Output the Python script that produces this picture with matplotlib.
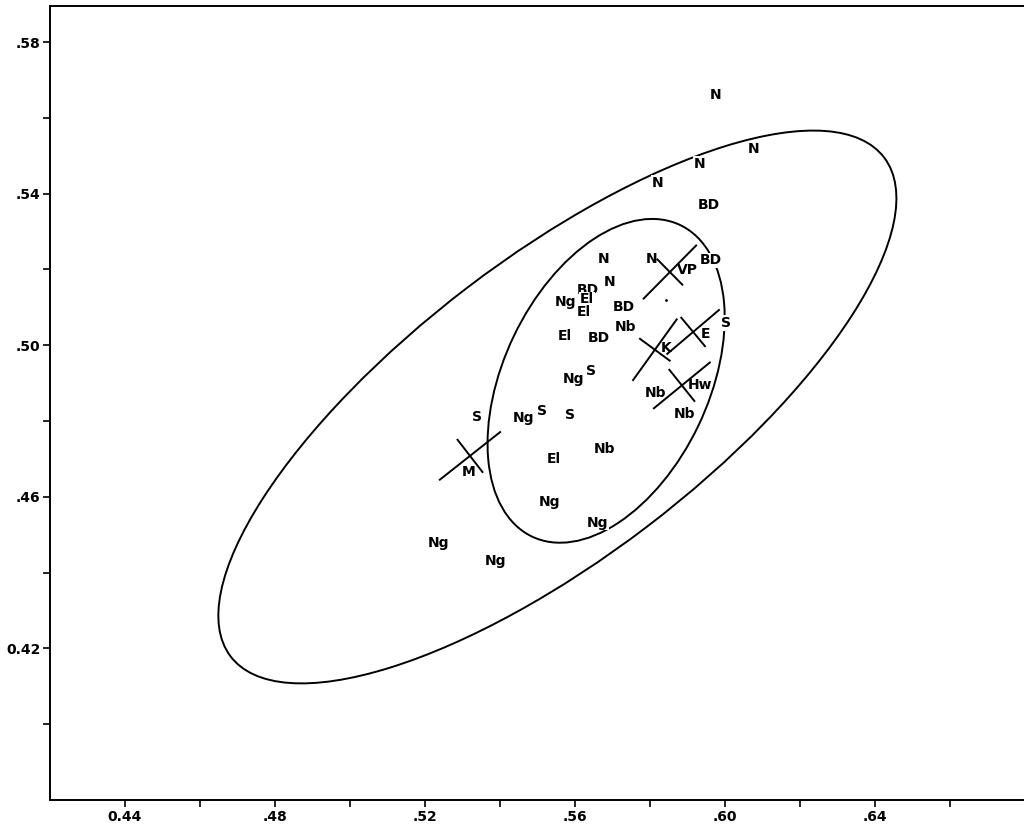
import numpy as np
import matplotlib
matplotlib.use("Agg")
import matplotlib.pyplot as plt
from matplotlib.patches import Ellipse

plt.rcParams['font.family'] = ['DejaVu Sans']

# group labels and their positions
point_labels = ['N', 'N', 'N', 'N', 'BD', 'N', 'N', 'BD', 'N', 'BD',
                'Ng', 'El', 'El', 'BD', 'Nb', 'El', 'BD', 'S', 'Ng', 'S',
                'Nb', 'Nb', 'S', 'Ng', 'S', 'S', 'Nb', 'El', 'Ng', 'Ng',
                'Ng', 'Ng']
point_x = [0.5976, 0.6077, 0.5933, 0.5821, 0.5957, 0.5675, 0.5803, 0.5963, 0.5693, 0.5635,
           0.5576, 0.5632, 0.5624, 0.5731, 0.5736, 0.5573, 0.5664, 0.6003, 0.5595, 0.5643,
           0.5816, 0.5891, 0.5339, 0.5464, 0.5512, 0.5587, 0.5680, 0.5544, 0.5531, 0.5661,
           0.5235, 0.5389]
point_y = [0.5660, 0.5518, 0.5479, 0.5429, 0.5371, 0.5227, 0.5227, 0.5224, 0.5167, 0.5146,
           0.5114, 0.5121, 0.5088, 0.5101, 0.5048, 0.5025, 0.5020, 0.5059, 0.4912, 0.4933,
           0.4875, 0.4818, 0.4810, 0.4807, 0.4826, 0.4815, 0.4726, 0.4700, 0.4587, 0.4532,
           0.4479, 0.4430]

# group means: label, label position, cross centre, arm half lengths, angle
mean_labels = ['M', 'VP', 'K', 'E', 'Hw']
mean_label_x = [0.5317, 0.5899, 0.5843, 0.5947, 0.5933]
mean_label_y = [0.4666, 0.5198, 0.4993, 0.5030, 0.4894]
cross_x = [0.5320, 0.5853, 0.5813, 0.5915, 0.5885]
cross_y = [0.4708, 0.5193, 0.4988, 0.5035, 0.4894]
cross_long = [0.0102, 0.0099, 0.0099, 0.0090, 0.0096]
cross_short = [0.0054, 0.0047, 0.0049, 0.0049, 0.0053]
cross_angle = [38, 45, 54, 40, 39]

# small dot
dot_x = [0.5843]
dot_y = [0.5119]

# ellipses (centre, semi axes, angle)
ell_cx = [0.5553, 0.5683]
ell_cy = [0.4837, 0.4906]
ell_a = [0.1092, 0.0456]
ell_b = [0.0396, 0.0273]
ell_angle = [37.0, 64.1]

fig = plt.figure(figsize=(10.24, 8.25), dpi=100)
ax = fig.add_axes([50 / 1024, 25 / 825, 975 / 1024, 794 / 825])

for cx, cy, a, b, ang in zip(ell_cx, ell_cy, ell_a, ell_b, ell_angle):
    ax.add_patch(Ellipse((cx, cy), 2 * a, 2 * b, angle=ang, fill=False,
                         edgecolor='black', linewidth=1.4, zorder=2))

for cx, cy, ln, sh, ang in zip(cross_x, cross_y, cross_long, cross_short, cross_angle):
    t = np.radians(ang)
    ax.plot([cx - ln * np.cos(t), cx + ln * np.cos(t)],
            [cy - ln * np.sin(t), cy + ln * np.sin(t)], color='black', lw=1.4, zorder=4)
    ax.plot([cx + sh * np.sin(t), cx - sh * np.sin(t)],
            [cy - sh * np.cos(t), cy + sh * np.cos(t)], color='black', lw=1.4, zorder=4)

for lab, x, y in zip(point_labels, point_x, point_y):
    ax.text(x, y, lab, ha='center', va='center', fontsize=10, fontweight='bold',
            zorder=3, bbox=dict(boxstyle='square,pad=0.05', fc='white', ec='none'))
for lab, x, y in zip(mean_labels, mean_label_x, mean_label_y):
    ax.text(x, y, lab, ha='center', va='center', fontsize=10, fontweight='bold', zorder=5)

ax.plot(dot_x, dot_y, 'k.', markersize=2)

ax.set_xlim(0.42, 0.68)
ax.set_ylim(0.38, 0.5895)

x_major = [0.44, 0.48, 0.52, 0.56, 0.60, 0.64]
x_major_labels = ['0.44', '.48', '.52', '.56', '.60', '.64']
x_minor = [0.46, 0.50, 0.54, 0.58, 0.62, 0.66]
y_major = [0.42, 0.46, 0.50, 0.54, 0.58]
y_major_labels = ['0.42', '.46', '.50', '.54', '.58']
y_minor = [0.40, 0.44, 0.48, 0.52, 0.56]

ax.set_xticks(x_major)
ax.set_xticklabels(x_major_labels, fontsize=10, fontweight='bold')
ax.set_xticks(x_minor, minor=True)
ax.set_yticks(y_major)
ax.set_yticklabels(y_major_labels, fontsize=10, fontweight='bold')
ax.set_yticks(y_minor, minor=True)
ax.tick_params(which='both', direction='out', length=5, width=1.2, pad=2)
ax.spines['right'].set_visible(False)
for s in ['left', 'top', 'bottom']:
    ax.spines[s].set_linewidth(1.4)

fig.savefig('out.png', dpi=100)
